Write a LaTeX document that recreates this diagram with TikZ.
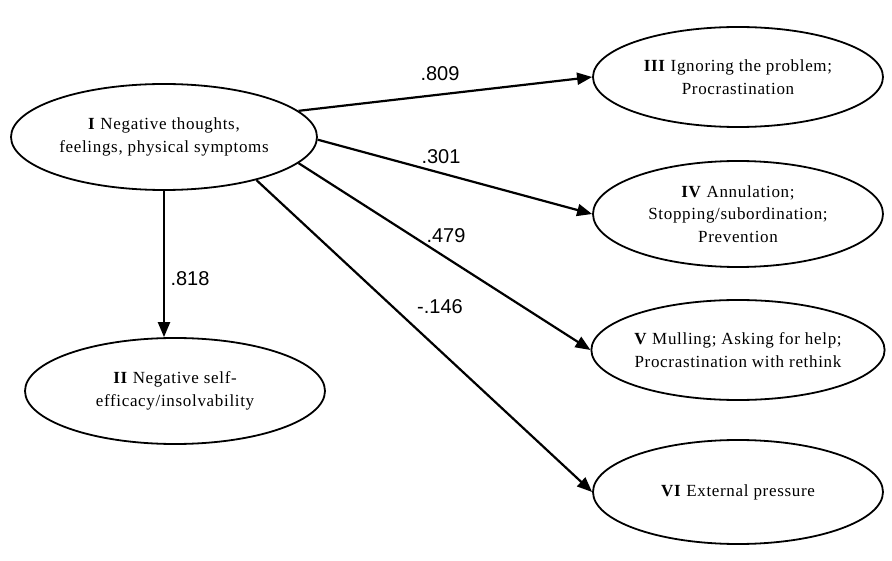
\documentclass[tikz,border=0pt]{standalone}
\usepackage{fontspec}
\setmainfont{Liberation Serif}[LetterSpace=4]
\newfontfamily\numfont{Liberation Sans}
\usetikzlibrary{shapes.geometric,arrows.meta}
\begin{document}
\begin{tikzpicture}[x=1pt,y=-1pt,
  oval/.style={ellipse,draw,line width=1.8pt,inner sep=0pt,
    minimum width=290pt,minimum height=100pt,align=center,
    font=\fontsize{17}{22.5}\selectfont},
  link/.style={line width=2.2pt,-{Triangle[length=15pt,width=12pt]}},
  weight/.style={font=\numfont\fontsize{20}{22}\selectfont,inner sep=0pt}]
  \useasboundingbox (0,0) rectangle (892,561);

  % factor ellipses
  \node[oval,minimum width=306pt,minimum height=106pt] (I) at (164,137)
    {\textbf{I} Negative thoughts,\\feelings, physical symptoms};
  \node[oval,minimum width=300pt,minimum height=106pt] (II) at (175,391)
    {\textbf{II} Negative self-\\efficacy/insolvability};
  \node[oval] (III) at (738,77)
    {\textbf{III} Ignoring the problem;\\Procrastination};
  \node[oval,minimum height=106pt] (IV) at (738,214)
    {\textbf{IV} Annulation;\\Stopping/subordination;\\Prevention};
  \node[oval] (V) at (738,350)
    {\textbf{V} Mulling; Asking for help;\\Procrastination with rethink};
  \node[oval,minimum height=104pt] (VI) at (738,492)
    {\textbf{VI} External pressure};

  % paths with their weights
  \draw[link] (I.11) -- (III.west);
  \draw[link] (I.-1) -- (IV.west);
  \draw[link] (I.-11) -- (V.west);
  \draw[link] (I.-25) -- (VI.west);
  \draw[link] (I.south) -- (I.south |- II.north);

  \node[weight] (w3) at (440,74) {.809};
  \node[weight] (w4) at (441,157) {.301};
  \node[weight] (w5) at (446,236) {.479};
  \node[weight] (w6) at (440,307) {-.146};
  \node[weight] (w2) at (190,279) {.818};
\end{tikzpicture}
\end{document}
